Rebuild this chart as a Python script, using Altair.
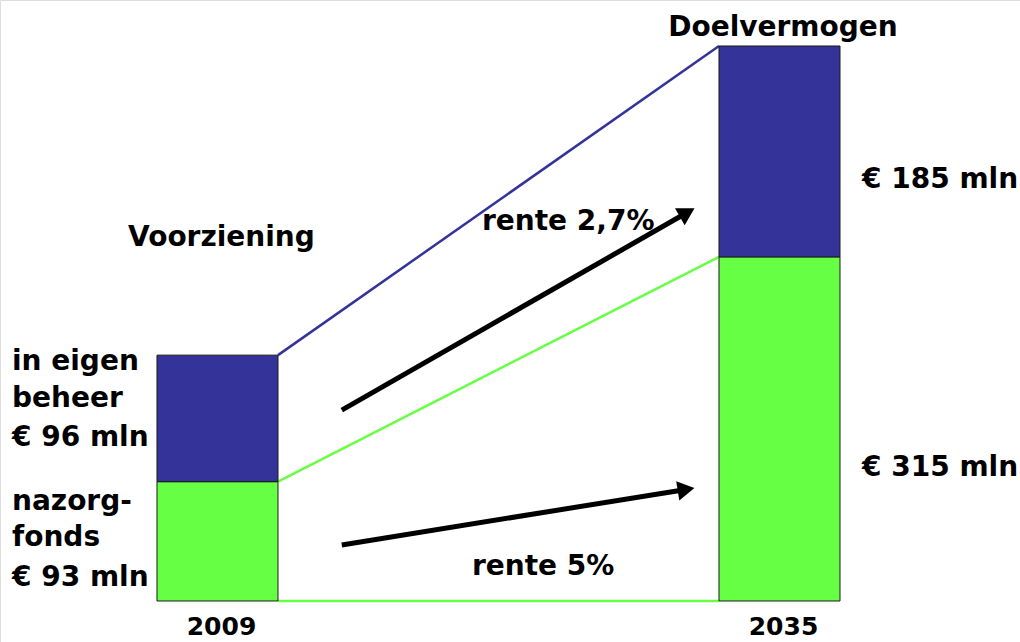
import math
import altair as alt
import pandas as pd

# ---- data (bar heights as drawn in the picture, in mln) ----
years = [2009, 2035]
nazorgfonds = [107.5, 310.0]      # green, bottom segment
eigen_beheer = [114.0, 190.0]     # blue, top segment
year_labels = ["2009", "2035"]

# arrows (rente growth), in data coordinates: year, mln
arrow_x0 = [2014.75, 2014.75]
arrow_y0 = [172.0, 50.5]
arrow_x1 = [2031.09, 2031.09]
arrow_y1 = [354.0, 101.8]

BLUE = "#333399"
GREEN = "#66FF44"
FONT = "DejaVu Sans"

W, H = 1020, 642
X_DOMAIN = [1998.938, 2046.127]
Y_DOMAIN = [-36.94, 541.44]
PX_X = W / (X_DOMAIN[1] - X_DOMAIN[0])
PX_Y = H / (Y_DOMAIN[1] - Y_DOMAIN[0])
BAR_PX = 121
HALF = BAR_PX / 2 / PX_X

xs = alt.Scale(domain=X_DOMAIN, nice=False, zero=False)
ys = alt.Scale(domain=Y_DOMAIN, nice=False, zero=False)

# segments
rows = []
for i, yr in enumerate(years):
    rows.append(dict(year=yr, x0=yr - HALF, x1=yr + HALF, y0=0, y1=nazorgfonds[i], part="nazorgfonds"))
    rows.append(dict(year=yr, x0=yr - HALF, x1=yr + HALF, y0=nazorgfonds[i],
                     y1=nazorgfonds[i] + eigen_beheer[i], part="eigen beheer"))
seg = pd.DataFrame(rows)

bars = alt.Chart(seg).mark_rect(stroke="#1a1a1a", strokeWidth=1).encode(
    x=alt.X("x0:Q", scale=xs, axis=None),
    x2="x1:Q",
    y=alt.Y("y0:Q", scale=ys, axis=None),
    y2="y1:Q",
    color=alt.Color("part:N", scale=alt.Scale(domain=["nazorgfonds", "eigen beheer"],
                                               range=[GREEN, BLUE]), legend=None),
)

# connector lines between bar edges
tot = [nazorgfonds[i] + eigen_beheer[i] for i in range(2)]
conn = pd.DataFrame([
    dict(xa=years[0] + HALF, xb=years[1] - HALF, ya=0, yb=0, c="g"),
    dict(xa=years[0] + HALF, xb=years[1] - HALF, ya=nazorgfonds[0], yb=nazorgfonds[1], c="g"),
    dict(xa=years[0] + HALF, xb=years[1] - HALF, ya=tot[0], yb=tot[1], c="b"),
])
connectors = alt.Chart(conn).mark_rule(strokeWidth=2.5).encode(
    x=alt.X("xa:Q", scale=xs, axis=None), x2="xb:Q",
    y=alt.Y("ya:Q", scale=ys, axis=None), y2="yb:Q",
    color=alt.Color("c:N", scale=alt.Scale(domain=["g", "b"], range=[GREEN, BLUE]), legend=None),
)

# arrows
arows = []
for i in range(2):
    dxp = (arrow_x1[i] - arrow_x0[i]) * PX_X
    dyp = (arrow_y1[i] - arrow_y0[i]) * PX_Y
    th = math.atan2(dyp, dxp)
    back = 9.0
    hx = arrow_x1[i] - back * math.cos(th) / PX_X
    hy = arrow_y1[i] - back * math.sin(th) / PX_Y
    arows.append(dict(x0=arrow_x0[i], y0=arrow_y0[i], hx=hx, hy=hy, ang=90 - math.degrees(th)))
adf = pd.DataFrame(arows)
shafts = alt.Chart(adf).mark_rule(strokeWidth=5, color="black").encode(
    x=alt.X("x0:Q", scale=xs, axis=None), x2="hx:Q",
    y=alt.Y("y0:Q", scale=ys, axis=None), y2="hy:Q",
)
heads = alt.Chart(adf).mark_point(shape="triangle-up", filled=True, color="black",
                                  opacity=1, size=380, strokeWidth=0).encode(
    x=alt.X("hx:Q", scale=xs, axis=None),
    y=alt.Y("hy:Q", scale=ys, axis=None),
    angle=alt.Angle("ang:Q", scale=None),
)

# text annotations (pixel positions)
texts = pd.DataFrame([
    dict(t="Doelvermogen", px=783, py=28, al="center"),
    dict(t="Voorziening", px=128, py=238, al="left"),
    dict(t="in eigen", px=12, py=362, al="left"),
    dict(t="beheer", px=12, py=399, al="left"),
    dict(t="€ 96 mln", px=12, py=438, al="left"),
    dict(t="nazorg-", px=12, py=502, al="left"),
    dict(t="fonds", px=12, py=538, al="left"),
    dict(t="€ 93 mln", px=12, py=578, al="left"),
    dict(t="€ 185 mln", px=862, py=180, al="left"),
    dict(t="€ 315 mln", px=862, py=468, al="left"),
    dict(t="rente 2,7%", px=482, py=222, al="left"),
    dict(t="rente 5%", px=472, py=567, al="left"),
])
layers_text = []
for al in ["left", "center"]:
    sub = texts[texts.al == al]
    layers_text.append(
        alt.Chart(sub).mark_text(font=FONT, fontWeight="bold", fontSize=28, align=al,
                                 baseline="middle", color="black").encode(
            x=alt.X("px:Q", scale=None, axis=None),
            y=alt.Y("py:Q", scale=None, axis=None),
            text="t:N",
        )
    )

ylab = pd.DataFrame(dict(year=years, lab=year_labels))
ylabels = alt.Chart(ylab).mark_text(font=FONT, fontWeight="bold", fontSize=25,
                                    baseline="middle", color="black", dx=4, dy=26).encode(
    x=alt.X("year:Q", scale=xs, axis=None),
    y=alt.value(601),
    text="lab:N",
)

chart = alt.layer(connectors, bars, shafts, heads, ylabels, *layers_text).properties(
    width=W, height=H, autosize=alt.AutoSizeParams(type="none"), padding=0,
).configure_view(stroke=None).configure(background="white")

chart.save("out.html", embed_options={"renderer": "svg", "actions": False})
